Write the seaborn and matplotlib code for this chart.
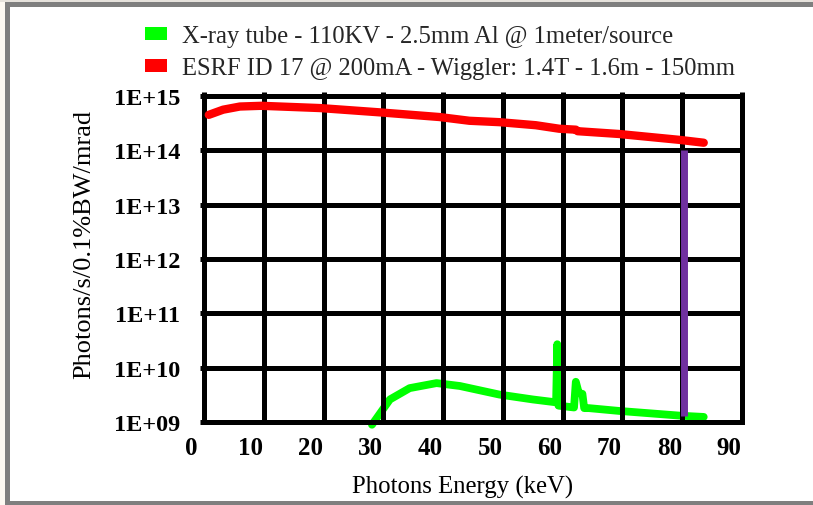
import numpy as np
import pandas as pd
import matplotlib
matplotlib.use("Agg")
import matplotlib.pyplot as plt
from matplotlib.patches import Patch, Rectangle
from matplotlib.transforms import ScaledTranslation
from matplotlib.ticker import NullLocator
import seaborn as sns

# ESRF ID17 wiggler spectrum (energy keV, photons/s/0.1%BW/mrad)
esrf_energy = [0.8, 3.2, 6.0, 9.6, 19.4, 29.4, 39.4, 44.4, 49.4, 55.5,
               59.4, 62.2, 62.5, 69.4, 79.5, 83.6]
esrf_flux = [4.5e14, 5.6e14, 6.4e14, 6.6e14, 6.0e14, 5.0e14, 4.1e14, 3.5e14,
             3.3e14, 2.9e14, 2.5e14, 2.4e14, 2.25e14, 2.0e14, 1.56e14, 1.38e14]

# X-ray tube spectrum, 110 kV, 2.5 mm Al filtration, 1 m from source
tube_energy = [28.1, 31.1, 34.4, 38.9, 42.8, 49.4, 55.0, 58.9, 59.1, 59.3,
               61.9, 62.2, 62.7, 63.3, 63.6, 64.4, 69.4, 80.0, 83.6]
tube_flux = [8.9e8, 2.6e9, 4.2e9, 5.2e9, 4.6e9, 3.2e9, 2.6e9, 2.3e9, 2.7e10, 2.0e9,
             1.85e9, 5.5e9, 3.4e9, 3.3e9, 1.8e9, 1.8e9, 1.6e9, 1.3e9, 1.24e9]

# Vertical marker at the selected energy
marker_energy = [80.3, 80.3]
marker_flux = [1.3e9, 1.0e14]

x_ticks = [0, 10, 20, 30, 40, 50, 60, 70, 80, 90]
y_ticks = [1e9, 1e10, 1e11, 1e12, 1e13, 1e14, 1e15]
y_tick_labels = ["1E+09", "1E+10", "1E+11", "1E+12", "1E+13", "1E+14", "1E+15"]

legend_labels = ["X-ray tube - 110KV - 2.5mm Al @ 1meter/source",
                 "ESRF ID 17 @ 200mA - Wiggler: 1.4T - 1.6m - 150mm"]
x_label = "Photons Energy (keV)"
y_label = "Photons/s/0.1%BW/mrad"

GREEN = "#00FF00"
RED = "#FF0000"
PURPLE = "#7030A0"

sns.set_theme(style="white")
plt.rcParams["font.family"] = ["Liberation Serif", "DejaVu Serif"]

W, H = 813, 506
fig = plt.figure(figsize=(W / 100, H / 100), dpi=100)
fig.patch.set_facecolor("white")


def fx(px):
    return px / W


def fy(py):
    return 1 - py / H


# page frame around the figure
frame_parts = [
    (0, 0, 5, H, "#FDF9F2"),
    (0, 0, W, 2.5, "#E6E2DC"),
    (5, 2.5, W - 5, 5, "#7F7F7F"),
    (5, 2.5, 5, H - 2.5, "#7F7F7F"),
    (5, 501.5, W - 5, 4.5, "#7F7F7F"),
]
for x0, y0, w, h, c in frame_parts:
    fig.patches.append(Rectangle((fx(x0), fy(y0 + h)), w / W, h / H,
                                 transform=fig.transFigure, facecolor=c,
                                 edgecolor="none", zorder=0))

left, right, top, bottom = 204, 742, 97, 423
ax = fig.add_axes([fx(left), fy(bottom), (right - left) / W, (bottom - top) / H])
ax.set_facecolor("white")

tube_df = pd.DataFrame({"energy": tube_energy, "flux": tube_flux})
esrf_df = pd.DataFrame({"energy": esrf_energy, "flux": esrf_flux})
marker_df = pd.DataFrame({"energy": marker_energy, "flux": marker_flux})

sns.lineplot(data=tube_df, x="energy", y="flux", ax=ax, color=GREEN,
             linewidth=5.6, sort=False, estimator=None, zorder=2,
             solid_capstyle="round", solid_joinstyle="round", clip_on=False)
sns.lineplot(data=esrf_df, x="energy", y="flux", ax=ax, color=RED,
             linewidth=6.0, sort=False, estimator=None, zorder=3,
             solid_capstyle="round", solid_joinstyle="round")
sns.lineplot(data=marker_df, x="energy", y="flux", ax=ax, color=PURPLE,
             linewidth=5.0, sort=False, estimator=None, zorder=3,
             solid_capstyle="butt")

ax.set_yscale("log")
ax.set_xlim(0, 90)
ax.set_ylim(1e9, 1e15)
ax.set_xticks(x_ticks)
ax.set_xticklabels([str(t) for t in x_ticks])
ax.set_yticks(y_ticks)
ax.set_yticklabels(y_tick_labels)
ax.yaxis.set_minor_locator(NullLocator())

ax.set_axisbelow(False)
ax.grid(True, which="major", color="black", linewidth=3.6)
for sp in ax.spines.values():
    sp.set_color("black")
    sp.set_linewidth(3.6)
    sp.set_zorder(2.5)

ax.tick_params(axis="x", bottom=False, top=True, labelbottom=True, labeltop=False,
               direction="out", length=3, width=3.6, color="black",
               labelsize=18, pad=7)
ax.tick_params(axis="y", left=True, direction="out", length=3, width=3.6,
               color="black", labelsize=17.5, pad=14)
for lab in ax.get_xticklabels() + ax.get_yticklabels():
    lab.set_fontweight("bold")
    lab.set_color("black")
shift = ScaledTranslation(-0.13, 0, fig.dpi_scale_trans)
for lab in ax.get_xticklabels():
    lab.set_transform(lab.get_transform() + shift)

ax.set_xlabel("")
ax.set_ylabel("")
fig.text(fx(463), fy(487), x_label, ha="center", va="center",
         fontsize=17.8, color="black")
fig.text(fx(84), fy(244), y_label, ha="center", va="center", rotation=90,
         fontsize=19, color="black")

handles = [Patch(facecolor=GREEN, edgecolor="none"),
           Patch(facecolor=RED, edgecolor="none")]
fig.legend(handles=handles, labels=legend_labels, loc="upper left",
           bbox_to_anchor=(fx(145), fy(26)), frameon=False, fontsize=17.7,
           handlelength=0.9, handleheight=0.45, handletextpad=0.6,
           labelspacing=0.42, borderpad=0, borderaxespad=0)

fig.savefig("out.png", dpi=100, facecolor=fig.get_facecolor())
